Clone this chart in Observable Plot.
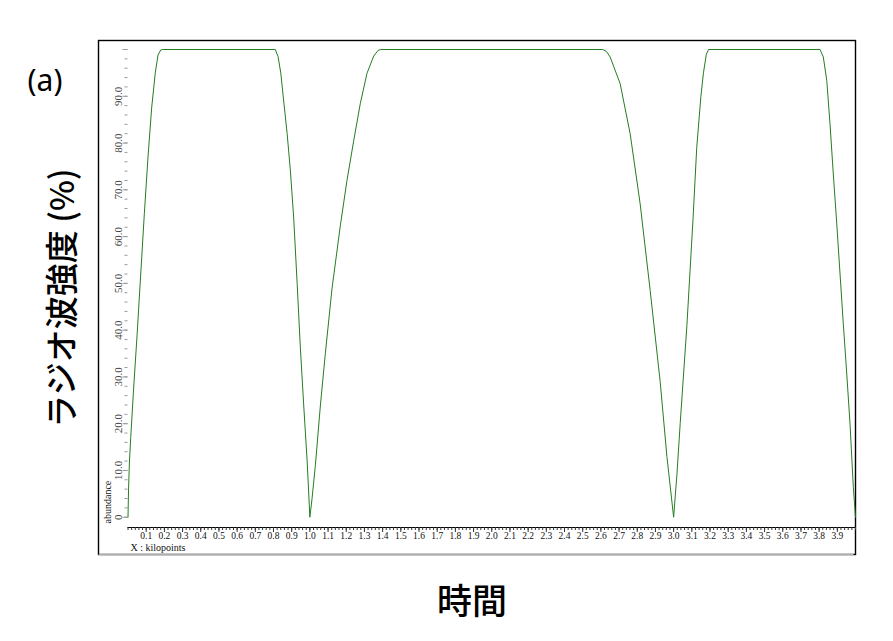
<!DOCTYPE html>
<html>
<head>
<meta charset="utf-8">
<script src="https://cdn.jsdelivr.net/npm/d3@7"></script>
<script src="https://cdn.jsdelivr.net/npm/@observablehq/plot@0.6"></script>
<style>
  html, body { margin: 0; padding: 0; background: #fff; }
  #wrap { position: relative; width: 893px; height: 641px; overflow: hidden; }
  .ov { position: absolute; white-space: nowrap; line-height: 1; color: #000; }
</style>
</head>
<body>
<div id="wrap"></div>
<script>
// ---- data ----
const time = [
  0, 0.003, 0.008, 0.015, 0.03, 0.05, 0.07, 0.09, 0.11, 0.13, 0.15, 0.165, 0.18, 0.19,
  0.81, 0.825, 0.84, 0.856, 0.875, 0.893, 0.911, 0.93, 0.948, 0.966, 0.985, 1.0,
  1.012, 1.03, 1.058, 1.085, 1.122, 1.168, 1.204, 1.241, 1.277, 1.314, 1.351, 1.375, 1.39,
  2.61, 2.63, 2.651, 2.706, 2.761, 2.816, 2.871, 2.926, 2.963, 3.0,
  3.018, 3.036, 3.073, 3.107, 3.127, 3.15, 3.164, 3.18, 3.192,
  3.805, 3.823, 3.842, 3.86, 3.878, 3.897, 3.915, 3.933, 3.952, 3.97, 3.988, 4.0
];
const intensity = [
  0, 6, 12, 17, 27, 39, 52, 65, 77, 87.5, 95, 98.8, 99.9, 100,
  100, 98.5, 95, 89, 82, 74, 64, 50, 36, 24, 12, 0,
  4, 11, 24, 35, 49, 62.5, 72, 80.5, 88.4, 94.9, 98.6, 99.8, 100,
  100, 99.6, 98.4, 92.7, 82, 67, 48.5, 29, 13, 0,
  9, 20, 41, 64, 79, 90, 95, 99, 100,
  100, 98.4, 93.4, 84, 73.4, 62.7, 52, 41.3, 30.6, 19.9, 6.4, 0
];
const xMajorTicks = d3.range(1, 40).map(i => i / 10);          // 0.1 … 3.9
const xMinorTicks = d3.range(0, 201).map(i => i / 50);         // every 0.02
const yLabelTicks = d3.range(0, 10).map(i => i * 10);          // 0 … 90
const yMajorTicks = d3.range(0, 11).map(i => i * 10);          // 0 … 100
const yMinorTicks = d3.range(0, 51).map(i => i * 2);           // every 2
const xDomain = [0, 4];
const yDomain = [-2.2, 100];
const yFrameBottom = -7.97;

const panelLabel = "(a)";
const yTitle = "ラジオ波強度 (%)";
const xTitle = "時間";
const xAxisName = "X : kilopoints";
const yAxisName = "abundance";

const data = time.map((t, i) => ({t, v: intensity[i]}));
const serif = "'Liberation Serif', 'DejaVu Serif', serif";

const chart = Plot.plot({
  width: 893,
  height: 641,
  marginLeft: 127.5,
  marginRight: 38,
  marginTop: 49,
  marginBottom: 114,
  style: {fontFamily: serif, background: "#fff"},
  x: {domain: xDomain, label: null},
  y: {domain: yDomain, label: null},
  marks: [
    Plot.frame({stroke: "#000", strokeWidth: 1.4, insetLeft: -29.5, insetTop: -9, insetBottom: -27}),
    Plot.ruleY([yFrameBottom], {stroke: "#b0b0b0", strokeWidth: 1.6, insetLeft: -28.8, insetRight: 1.5}),
    // y axis (gray ticks)
    Plot.axisY({ticks: yMinorTicks, tickSize: 3, tickFormat: () => "", stroke: "#9a9a9a"}),
    Plot.axisY({ticks: yMajorTicks, tickSize: 5, tickFormat: () => "", stroke: "#9a9a9a"}),
    Plot.text(yLabelTicks, {
      y: d => d, text: d => d === 0 ? "0" : d.toFixed(1),
      frameAnchor: "left", rotate: -90, dx: -10, textAnchor: "middle", lineAnchor: "middle",
      fontSize: 11, fill: "#444"
    }),
    Plot.text([yAxisName], {
      frameAnchor: "bottom-left", rotate: -90, dx: -20, dy: -4,
      textAnchor: "start", lineAnchor: "middle", fontSize: 10, fill: "#111"
    }),
    // x axis
    Plot.ruleY([yDomain[0]], {stroke: "#000", strokeWidth: 1}),
    Plot.axisX({ticks: xMinorTicks, tickSize: 3, tickFormat: () => "", stroke: "#333"}),
    Plot.axisX({ticks: xMajorTicks, tickSize: 5, tickPadding: 0, tickFormat: d => d.toFixed(1),
      stroke: "#333", fontSize: 9.5, fill: "#111"}),
    Plot.text([xAxisName], {
      frameAnchor: "bottom-left", dx: 2.5, dy: 20, textAnchor: "start", lineAnchor: "middle",
      fontSize: 10, fill: "#111"
    }),
    // series
    Plot.line(data, {x: "t", y: "v", stroke: "#237d23", strokeWidth: 1})
  ]
});

const wrap = document.getElementById("wrap");
wrap.appendChild(chart);

function overlay(text, css) {
  const d = document.createElement("div");
  d.className = "ov";
  d.textContent = text;
  Object.assign(d.style, css);
  wrap.appendChild(d);
}
overlay(panelLabel, {left: "45px", top: "80px", transform: "translate(-50%,-50%)",
  fontFamily: "'Noto Sans', 'Open Sans', sans-serif", fontSize: "30px"});
overlay(yTitle, {left: "60px", top: "298px", transform: "translate(-50%,-50%) rotate(-90deg)",
  fontFamily: "'Noto Sans CJK JP', sans-serif", fontSize: "33px", fontWeight: "500"});
overlay(xTitle, {left: "472px", top: "598px", transform: "translate(-50%,-50%)",
  fontFamily: "'Noto Sans CJK JP', sans-serif", fontSize: "35px", fontWeight: "500"});
</script>
</body>
</html>
